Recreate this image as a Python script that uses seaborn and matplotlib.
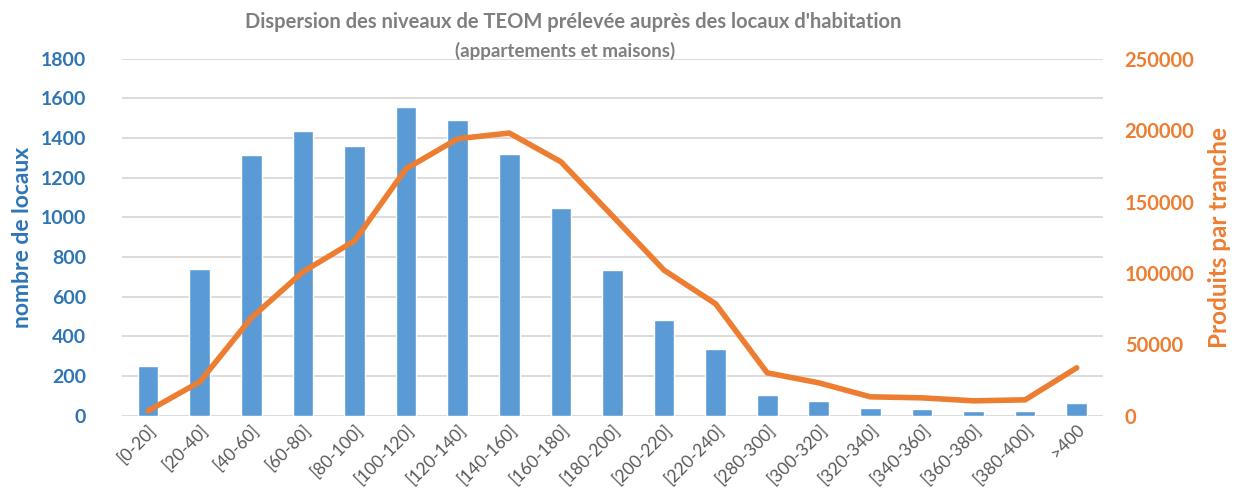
import matplotlib

matplotlib.use("Agg", force=True)
import matplotlib.pyplot as plt
import numpy as np
import pandas as pd
import seaborn as sns

TRANCHES = [
    "[0-20]", "[20-40]", "[40-60]", "[60-80]", "[80-100]", "[100-120]",
    "[120-140]", "[140-160]", "[160-180]", "[180-200]", "[200-220]",
    "[220-240]", "[280-300]", "[300-320]", "[320-340]", "[340-360]",
    "[360-380]", "[380-400]", ">400",
]
NB_LOCAUX = [252, 741, 1316, 1437, 1362, 1558, 1493, 1321, 1049, 736,
             484, 338, 106, 76, 40, 35, 25, 25, 66]
PRODUITS = [3500, 23800, 68600, 100800, 122500, 173000, 194000, 198000,
            177900, 140000, 102000, 78400, 30100, 23100, 13300, 12600,
            10500, 11200, 33600]

BLUE = "#5B9BD5"
BLUE_TXT = "#2E75B6"
ORANGE = "#ED7D31"
GREY = "#7F7F7F"

sns.set_theme(style="white")
plt.rcParams["font.family"] = ["Lato", "DejaVu Sans"]

df = pd.DataFrame({"tranche": TRANCHES, "locaux": NB_LOCAUX, "produits": PRODUITS})

fig = plt.figure(figsize=(12.36, 4.98), dpi=100)
ax = fig.add_axes([0.099, 0.165, 0.793, 0.717])

# bars: number of premises per TEOM bracket (left axis)
sns.barplot(data=df, x="tranche", y="locaux", color=BLUE, width=0.4,
            saturation=1, ax=ax, zorder=2)
ax.set_ylim(0, 1800)
ax.set_yticks(range(0, 1801, 200))
ax.yaxis.grid(True, color="#D9D9D9", linewidth=1.3, zorder=0)
ax.set_axisbelow(True)
ax.set_xlim(-0.5, len(TRANCHES) - 0.5)
ax.set_xlabel("")
ax.set_ylabel("nombre de locaux", color=BLUE_TXT, fontsize=16.5, fontweight="bold", labelpad=6)
ax.tick_params(axis="y", colors=BLUE_TXT, labelsize=14, length=0, pad=26)
for lbl in ax.get_yticklabels():
    lbl.set_fontweight("bold")
ax.tick_params(axis="x", colors="#595959", labelsize=12.5, length=0, pad=4)
plt.setp(ax.get_xticklabels(), rotation=45, ha="right", rotation_mode="anchor")

# line: revenue per bracket (right axis)
ax2 = ax.twinx()
sns.lineplot(x=np.arange(len(TRANCHES)), y=df["produits"], color=ORANGE,
             linewidth=4, ax=ax2, zorder=3)
ax2.set_ylim(0, 250000)
ax2.set_yticks(range(0, 250001, 50000))
ax2.set_ylabel("Produits par tranche", color=ORANGE, fontsize=17.5, fontweight="bold", labelpad=10)
ax2.tick_params(axis="y", colors=ORANGE, labelsize=14.5, length=0, pad=16)
for lbl in ax2.get_yticklabels():
    lbl.set_fontweight("bold")

for a in (ax, ax2):
    for s in a.spines.values():
        s.set_visible(False)

fig.text(0.464, 0.955, "Dispersion des niveaux de TEOM prélevée auprès des locaux d'habitation",
         ha="center", va="center", color=GREY, fontsize=14.5, fontweight="bold")
fig.text(0.457, 0.898, "(appartements et maisons)", ha="center", va="center",
         color=GREY, fontsize=13.5, fontweight="bold")

fig.savefig("out.png", dpi=100)
